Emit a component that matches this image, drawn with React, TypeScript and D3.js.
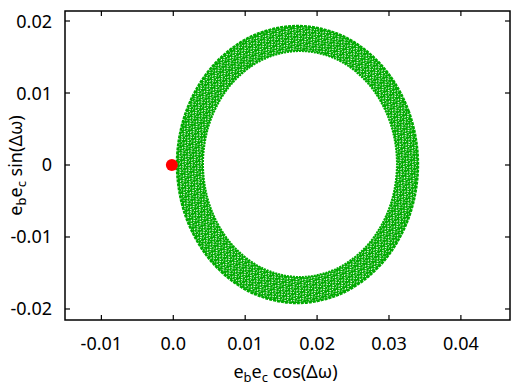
import { useEffect, useRef } from 'react'
import * as d3 from 'd3'

const xTicks = [-0.01, 0.0, 0.01, 0.02, 0.03, 0.04]
const xTickLabels = ['-0.01', '0.0', '0.01', '0.02', '0.03', '0.04']
const yTicks = [-0.02, -0.01, 0, 0.01, 0.02]
const yTickLabels = ['-0.02', '-0.01', '0', '0.01', '0.02']

// edges of the green band, going round from the right
const ringOuter: [number, number][] = [
  [0.03403, 0.0001], [0.03275, 0.00743], [0.02912, 0.01367], [0.0237, 0.01785],
  [0.01727, 0.01931], [0.01085, 0.01785], [0.00542, 0.01367], [0.00179, 0.00743],
  [0.00051, 0.0001], [0.00179, -0.00729], [0.00542, -0.01353], [0.01085, -0.01771],
  [0.01727, -0.01917], [0.0237, -0.01771], [0.02912, -0.01353], [0.03275, -0.00729],
]
const ringInner: [number, number][] = [
  [0.03111, 0.00014], [0.03008, 0.00615], [0.02716, 0.01124], [0.0228, 0.01464],
  [0.01762, 0.01583], [0.01245, 0.01464], [0.00808, 0.01124], [0.00516, 0.00615],
  [0.00413, 0.00014], [0.00516, -0.00588], [0.00808, -0.01096], [0.01245, -0.01436],
  [0.01762, -0.01556], [0.0228, -0.01436], [0.02716, -0.01096], [0.03008, -0.00588],
]
const startPoint: [number, number][] = [[-0.0002, 0]]

export default function App() {
  const svgRef = useRef<SVGSVGElement>(null)

  useEffect(() => {
    const W = 521
    const H = 385
    const margin = { top: 11, right: 11, bottom: 65, left: 65 }
    const font = '"Noto Sans", "Open Sans", sans-serif'

    const x = d3.scaleLinear().domain([-0.01506, 0.04683]).range([margin.left, W - margin.right])
    const y = d3.scaleLinear().domain([-0.02153, 0.02139]).range([H - margin.bottom, margin.top])

    const svg = d3.select(svgRef.current)
    svg.selectAll('*').remove()
    svg.attr('width', W).attr('height', H)

    svg.append('rect').attr('width', W).attr('height', H).attr('fill', '#fff')

    // white speckle so the band looks like a cloud of dots
    const defs = svg.append('defs')
    const pat = defs.append('pattern')
      .attr('id', 'speck').attr('patternUnits', 'userSpaceOnUse')
      .attr('width', 7).attr('height', 6)
      .attr('patternTransform', 'rotate(28)')
    const specks = [[1, 1, 2, 1], [4, 0, 1, 1], [6, 2, 1, 2], [2, 3, 1, 1], [0, 5, 2, 1], [4, 4, 1, 1]]
    specks.forEach(([sx, sy, sw, sh]) => {
      pat.append('rect').attr('x', sx).attr('y', sy).attr('width', sw).attr('height', sh)
        .attr('fill', '#fff')
    })

    const line = d3.line<[number, number]>()
      .x((d) => x(d[0])).y((d) => y(d[1]))
      .curve(d3.curveCatmullRomClosed)

    const ringD = (line(ringOuter) || '') + (line(ringInner) || '')
    const green = '#00aa00'

    svg.append('path').attr('d', ringD).attr('fill', green).attr('fill-rule', 'evenodd')
    svg.append('path').attr('d', ringD).attr('fill', 'url(#speck)').attr('fill-rule', 'evenodd')
      .attr('opacity', 0.9)
    svg.append('path').attr('d', line(ringOuter)).attr('fill', 'none')
      .attr('stroke', green).attr('stroke-width', 2.5).attr('stroke-dasharray', '3,1')
    svg.append('path').attr('d', line(ringInner)).attr('fill', 'none')
      .attr('stroke', green).attr('stroke-width', 2).attr('stroke-dasharray', '2,1')

    svg.selectAll('circle.start').data(startPoint).enter().append('circle')
      .attr('cx', (d) => x(d[0])).attr('cy', (d) => y(d[1])).attr('r', 6)
      .attr('fill', '#ff0000')

    // frame and inward ticks on all four sides
    const x0 = margin.left, x1 = W - margin.right
    const y0 = margin.top, y1 = H - margin.bottom
    const tl = 5
    const axis = svg.append('g').attr('stroke', '#000').attr('stroke-width', 1.2)
    xTicks.forEach((t) => {
      axis.append('line').attr('x1', x(t)).attr('x2', x(t)).attr('y1', y1).attr('y2', y1 - tl)
      axis.append('line').attr('x1', x(t)).attr('x2', x(t)).attr('y1', y0).attr('y2', y0 + tl)
    })
    yTicks.forEach((t) => {
      axis.append('line').attr('x1', x0).attr('x2', x0 + tl).attr('y1', y(t)).attr('y2', y(t))
      axis.append('line').attr('x1', x1).attr('x2', x1 - tl).attr('y1', y(t)).attr('y2', y(t))
    })
    axis.append('rect').attr('x', x0).attr('y', y0).attr('width', x1 - x0).attr('height', y1 - y0)
      .attr('fill', 'none').attr('stroke-width', 1.5)

    const labels = svg.append('g').attr('font-family', font).attr('font-size', 18).attr('fill', '#000')
    xTicks.forEach((t, i) => {
      labels.append('text').attr('x', x(t)).attr('y', y1 + 30).attr('text-anchor', 'middle')
        .text(xTickLabels[i])
    })
    yTicks.forEach((t, i) => {
      labels.append('text').attr('x', x0 - 13).attr('y', y(t) + 6.5).attr('text-anchor', 'end')
        .text(yTickLabels[i])
    })

    const title = (g: d3.Selection<SVGTextElement, unknown, null, undefined>, fn: string) => {
      g.append('tspan').text('e')
      g.append('tspan').attr('font-size', 13).attr('dy', 4).text('b')
      g.append('tspan').attr('dy', -4).text('e')
      g.append('tspan').attr('font-size', 13).attr('dy', 4).text('c')
      g.append('tspan').attr('dy', -4).text(` ${fn}(Δω)`)
    }

    const xt = labels.append('text').attr('x', (x0 + x1) / 2 - 2).attr('y', 378)
      .attr('text-anchor', 'middle')
    title(xt, 'cos')

    const yt = labels.append('text')
      .attr('transform', `translate(22,${(y0 + y1) / 2}) rotate(-90)`)
      .attr('text-anchor', 'middle')
    title(yt, 'sin')

    return () => { svg.selectAll('*').remove() }
  }, [])

  return (
    <div style={{ position: 'absolute', left: 0, top: 0 }}>
      <svg ref={svgRef} style={{ display: 'block' }} />
    </div>
  )
}
